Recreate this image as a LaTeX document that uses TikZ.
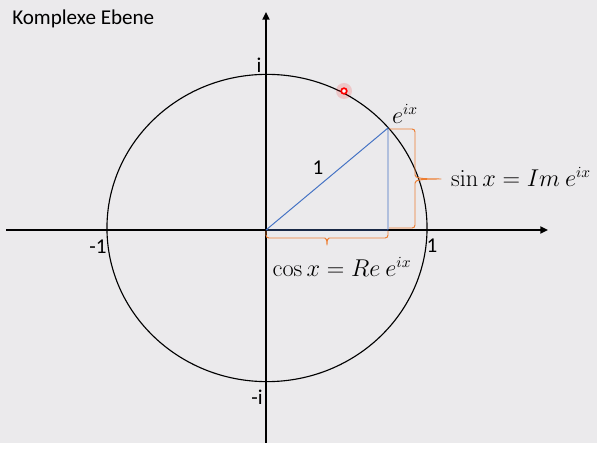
\documentclass[tikz,border=0pt]{standalone}
\usepackage[no-math]{fontspec}
\setmainfont{Carlito}
\usetikzlibrary{arrows.meta, positioning}
\definecolor{bggrey}{HTML}{EBEAEC}
\definecolor{officeblue}{HTML}{4472C4}
\definecolor{officeorange}{HTML}{ED7D31}

\begin{document}
\begin{tikzpicture}[
    x=0.025cm, y=-0.025cm,
    axis/.style={draw=black, line width=1.4pt, -{Triangle[length=5.5pt,width=5pt]}},
    unitcircle/.style={draw=black, line width=0.8pt},
    blueline/.style={draw=officeblue, line width=0.7pt},
    bracket/.style={draw=officeorange, line width=0.7pt, rounded corners=2pt},
    lbl/.style={font=\fontsize{15}{18}\selectfont, inner sep=0pt},
    formula/.style={font=\fontsize{16}{19}\selectfont, inner sep=0pt}
  ]
    \useasboundingbox (0,0) rectangle (607,451);
    \fill[bggrey] (0,0) rectangle (597,443);

    % axes
    \coordinate (O) at (266,230);
    \coordinate (xstart) at (6,230);
    \coordinate (xend) at (548,230);
    \coordinate (ystart) at (266,443);
    \coordinate (yend) at (266,12);
    \draw[axis] (xstart) -- (xend);
    \draw[axis] (ystart) -- (yend);

    % unit circle
    \draw[unitcircle] (267,228) ellipse [x radius=4cm, y radius=3.84cm];

    % point and its projections
    \coordinate (P) at (388,128);
    \coordinate (Px) at (388,230);
    \draw[blueline] (O) -- (P) -- (Px) -- (O);

    % braces
    \draw[bracket] (389,129) -- (415,129) -- (415,172)
      .. controls (415,178) and (420,179) .. (443,179)
      .. controls (420,179) and (415,180) .. (415,186)
      -- (415,228) -- (389,228);
    \draw[bracket] (266,231) -- (266,238) -- (322,238)
      .. controls (326,238) and (327,240) .. (327,247)
      .. controls (327,240) and (328,238) .. (332,238)
      -- (388,238) -- (388,231);

    % pointer
    \fill[red, opacity=0.15] (344,91) circle [radius=0.2cm];
    \filldraw[draw=red, fill=white, line width=1.2pt] (344,91) circle [radius=0.07cm];

    % labels
    \node[lbl] (ilabel) at (259,65) {i};
    \node[lbl] (milabel) at (257,397) {-i};
    \node[lbl] (mone) at (98,247) {-1};
    \node[lbl] (pone) at (432,246) {1};
    \node[lbl] (radius) at (318,168) {1};
    \node[formula] (eix) at (405,114) {$e^{ix}$};
    \node[formula] (sinlabel) at (521,177) {$\sin x = Im\ e^{ix}$};
    \node[formula] (coslabel) at (342,267) {$\cos x = Re\ e^{ix}$};
    \node[font=\fontsize{15}{18}\selectfont, anchor=base west, inner sep=0pt] (title) at (12,25) {Komplexe Ebene};
  \end{tikzpicture}
\end{document}
